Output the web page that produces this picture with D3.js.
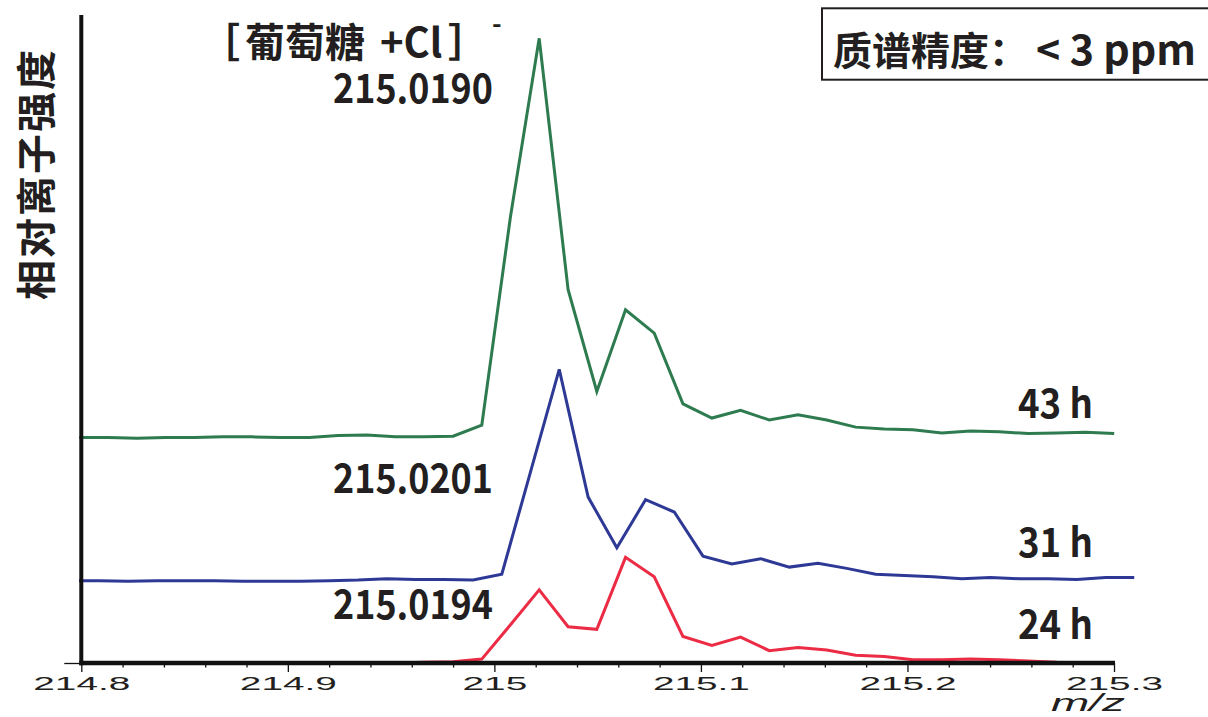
<!DOCTYPE html>
<html><head><meta charset="utf-8">
<script src="https://cdn.jsdelivr.net/npm/d3@7"></script>
<style>
html,body{margin:0;padding:0;background:#fff;}
svg{display:block;}
</style></head>
<body>
<svg id="chart" width="1208" height="717"></svg>
<script>
// ---- data ----
const seriesNames = ["43 h", "31 h", "24 h"];
const peakLabels = ["215.0190", "215.0201", "215.0194"];
const seriesOffsets = [34.8, 12.6, 0];   // vertical stacking offset (relative units)

const mz43h = [214.7990,214.8130,214.8269,214.8408,214.8547,214.8686,214.8826,214.8965,214.9104,214.9243,
  214.9382,214.9521,214.9661,214.9800,214.9939,215.0078,215.0217,215.0357,215.0496,215.0635,
  215.0774,215.0913,215.1053,215.1192,215.1331,215.1470,215.1609,215.1749,215.1888,215.2027,
  215.2166,215.2305,215.2445,215.2584,215.2723,215.2862,215.3001];
const int43h = [0.0,0.0,-0.1,0.0,0.0,0.1,0.1,0.0,0.0,0.3,
  0.4,0.1,0.1,0.2,1.9,34.1,61.6,22.8,7.1,19.7,
  16.1,5.2,3.0,4.2,2.7,3.5,2.7,1.6,1.3,1.2,
  0.7,1.0,0.9,0.6,0.7,0.8,0.6];

const mz31h = [214.7948,214.8087,214.8226,214.8366,214.8505,214.8644,214.8783,214.8922,214.9062,214.9201,
  214.9340,214.9479,214.9618,214.9758,214.9897,215.0036,215.0175,215.0314,215.0454,215.0593,
  215.0732,215.0871,215.1010,215.1150,215.1289,215.1428,215.1567,215.1706,215.1846,215.1985,
  215.2124,215.2263,215.2402,215.2542,215.2681,215.2820,215.2959,215.3098];
const int31h = [0.1,0.1,0.0,0.1,0.1,0.1,0.0,0.0,0.0,0.1,
  0.2,0.4,0.3,0.3,0.2,1.1,16.9,32.7,13.0,5.2,
  12.6,10.7,3.9,2.7,3.5,2.2,2.8,2.0,1.1,0.9,
  0.7,0.4,0.6,0.4,0.4,0.3,0.6,0.6];

const mz24h = [214.9382,214.9521,214.9661,214.9800,214.9939,215.0078,215.0217,215.0357,215.0496,215.0635,
  215.0774,215.0913,215.1053,215.1192,215.1331,215.1470,215.1609,215.1749,215.1888,215.2027,
  215.2166,215.2305,215.2445,215.2584,215.2723];
const int24h = [0.0,0.0,0.1,0.2,0.6,5.9,11.3,5.6,5.2,16.3,
  13.3,4.1,2.7,4.0,1.9,2.4,2.0,1.2,1.0,0.5,
  0.5,0.6,0.5,0.3,0.1];

const majorTicks = [214.8, 214.9, 215.0, 215.1, 215.2, 215.3];
const majorTickLabels = ["214.8", "214.9", "215", "215.1", "215.2", "215.3"];
const minorTicks = [214.82,214.84,214.86,214.88,214.92,214.94,214.96,214.98,215.02,215.04,215.06,215.08,
  215.12,215.14,215.16,215.18,215.22,215.24,215.26,215.28];

const colors = ["#2e7b4f", "#2e3996", "#ec2b45"];
const textColor = "#231f20";
const cjk = "'Noto Sans CJK SC', 'Noto Sans', sans-serif";

// ---- chart ----
const svg = d3.select("#chart");
const x = d3.scaleLinear().domain([214.8, 215.3]).range([81.3, 1114]);
const y = d3.scaleLinear().domain([0, 100]).range([663, 15]);

svg.append("defs").append("clipPath").attr("id", "plotclip")
  .append("rect").attr("x", 79).attr("y", 0).attr("width", 1129).attr("height", 717);

const series = [
  {mz: mz43h, v: int43h},
  {mz: mz31h, v: int31h},
  {mz: mz24h, v: int24h}
];

const lineGen = (off) => d3.line().x(d => x(d[0])).y(d => y(d[1] + off));

const gLines = svg.append("g").attr("clip-path", "url(#plotclip)");
series.forEach((s, i) => {
  const pts = s.mz.map((m, k) => [m, s.v[k]]);
  gLines.append("path")
    .datum(pts)
    .attr("d", lineGen(seriesOffsets[i]))
    .attr("fill", "none")
    .attr("stroke", colors[i])
    .attr("stroke-width", 3)
    .attr("stroke-linejoin", "miter");
});

// minor ticks
const minorAxis = svg.append("g").attr("transform", `translate(0,${y(0)})`)
  .call(d3.axisBottom(x).tickValues(minorTicks).tickSize(4.5).tickSizeOuter(0).tickFormat(""));
minorAxis.select(".domain").remove();
minorAxis.selectAll("line").attr("stroke", "#111").attr("stroke-width", 1.3);

// major x axis
const xAxis = svg.append("g").attr("transform", `translate(0,${y(0)})`)
  .call(d3.axisBottom(x).tickValues(majorTicks).tickSize(9).tickSizeOuter(0)
        .tickFormat((d, i) => majorTickLabels[i]));
xAxis.select(".domain").attr("stroke", "#111").attr("stroke-width", 4.6)
  .attr("d", `M${x(214.8) - 2},0H${x(215.3) + 1}`);
xAxis.selectAll(".tick line").attr("stroke", "#111").attr("stroke-width", 1.3);
xAxis.selectAll(".tick text")
  .attr("y", 27).attr("dy", 0)
  .attr("fill", textColor)
  .attr("font-family", "'Liberation Sans', Arial, sans-serif")
  .attr("font-size", 19)
  .attr("transform", "scale(2.04,1)");

// y axis
const yAxis = svg.append("g").attr("transform", `translate(${x(214.8)},0)`)
  .call(d3.axisLeft(y).tickValues([0]).tickSize(17).tickSizeOuter(0).tickFormat(""));
yAxis.select(".domain").attr("stroke", "#111").attr("stroke-width", 4)
  .attr("d", `M0,${y(0) + 2.3}V${y(100)}`);
yAxis.selectAll(".tick line").attr("stroke", "#111").attr("stroke-width", 1.3);

// axis titles
svg.append("text")
  .attr("transform", `translate(${1088},711) scale(2.0,1)`)
  .attr("text-anchor", "middle")
  .attr("font-family", "'Liberation Sans', Arial, sans-serif")
  .attr("font-style", "italic")
  .attr("font-size", 23)
  .attr("fill", textColor)
  .text("m/z");

svg.append("text")
  .attr("transform", "translate(34,174) rotate(-90)")
  .attr("text-anchor", "middle")
  .attr("dominant-baseline", "central")
  .attr("font-family", cjk)
  .attr("font-weight", "bold")
  .attr("font-size", 40)
  .attr("letter-spacing", 2)
  .attr("fill", textColor)
  .text("相对离子强度");

// compound label (separate pieces)
const titleBase = 57;
const addT = (t, xx, yy, fs, opts = {}) => {
  const el = svg.append("text").attr("x", xx).attr("y", yy)
    .attr("font-family", cjk).attr("font-weight", "bold").attr("font-size", fs)
    .attr("fill", textColor).text(t);
  Object.entries(opts).forEach(([k, v]) => el.attr(k, v));
  return el;
};
addT("［", 200, titleBase, 40);
addT("葡萄糖", 245, titleBase, 40);
addT("+Cl", 380, titleBase, 40);
addT("］", 448, titleBase, 40);
addT("-", 492, 33, 26);

// peak labels
const peakBaselines = [103, 493, 619];
peakLabels.forEach((t, i) => {
  addT(t, 333, peakBaselines[i], 40, {textLength: 160, lengthAdjust: "spacingAndGlyphs"});
});

// series labels
const nameBaselines = [418, 557, 639];
seriesNames.forEach((t, i) => {
  addT(t, 1018, nameBaselines[i], 40, {textLength: 75, lengthAdjust: "spacingAndGlyphs"});
});

// accuracy box
svg.append("rect").attr("x", 822).attr("y", 8.3).attr("width", 420).attr("height", 71.4)
  .attr("fill", "none").attr("stroke", "#231f20").attr("stroke-width", 2);
addT("质谱精度：", 833, 65, 39);
addT("< 3 ppm", 1036, 65, 41, {textLength: 160, lengthAdjust: "spacingAndGlyphs"});
</script>
</body></html>
